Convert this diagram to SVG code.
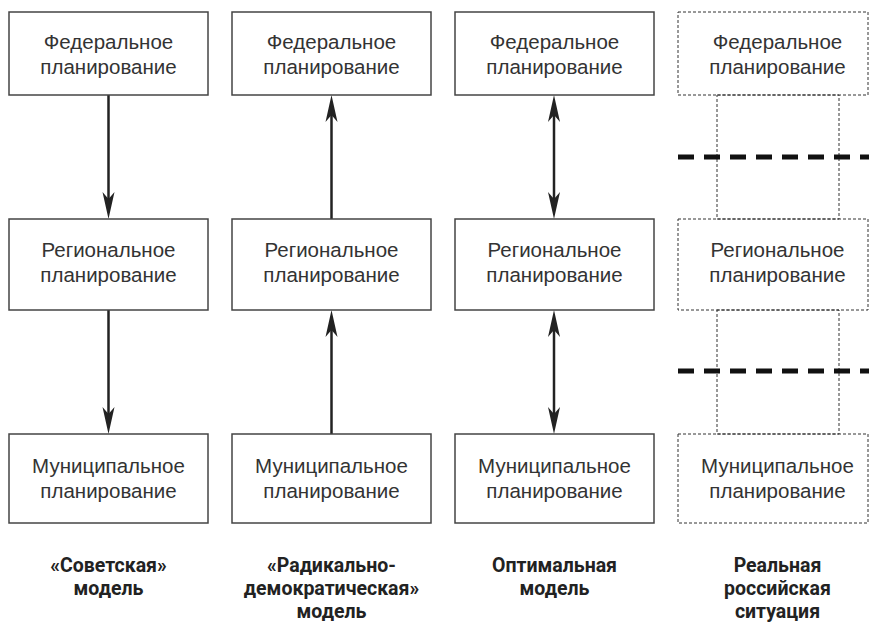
<svg xmlns="http://www.w3.org/2000/svg" width="869" height="622" viewBox="0 0 869 622">
<style>
.box{fill:#fff;stroke:#444;stroke-width:1.5}
.dbox{fill:none;stroke:#333;stroke-width:1;stroke-dasharray:3 2}
.t{font-family:"Liberation Sans",Arial,sans-serif;font-size:20.5px;fill:#333;text-anchor:middle}
.lab{font-family:Roboto,"Liberation Sans",sans-serif;font-weight:bold;font-size:19.5px;fill:#222;text-anchor:middle}
.arr{stroke:#222;stroke-width:2.5;fill:none}
.thick{stroke:#111;stroke-width:5;stroke-dasharray:16 10;fill:none}
</style>
<defs>
<marker id="ah" markerUnits="userSpaceOnUse" viewBox="0 -7 28 14" refX="7" refY="0" markerWidth="28" markerHeight="14" orient="auto-start-reverse">
<path d="M0,-6 L27,0 L0,6 L7,0 z" fill="#222"/>
</marker>
</defs>
<rect width="869" height="622" fill="#fff"/>
<g id="connectors">
<line class="arr" x1="108.5" y1="95" x2="108.5" y2="199" marker-end="url(#ah)"/>
<line class="arr" x1="108.5" y1="310" x2="108.5" y2="414" marker-end="url(#ah)"/>
<line class="arr" x1="331.5" y1="219" x2="331.5" y2="115" marker-end="url(#ah)"/>
<line class="arr" x1="331.5" y1="434" x2="331.5" y2="330" marker-end="url(#ah)"/>
<line class="arr" x1="554" y1="115" x2="554" y2="199" marker-start="url(#ah)" marker-end="url(#ah)"/>
<line class="arr" x1="554" y1="330" x2="554" y2="414" marker-start="url(#ah)" marker-end="url(#ah)"/>
<rect class="dbox" x="717" y="95" width="122" height="124"/>
<rect class="dbox" x="717" y="310" width="122" height="124"/>
<line class="thick" x1="678" y1="157" x2="869" y2="157"/>
<line class="thick" x1="678" y1="371" x2="869" y2="371"/>
</g>
<g id="fed1"><rect class="box" x="9" y="12" width="199" height="83"/><text class="t" x="108.5" y="49">Федеральное</text><text class="t" x="108.5" y="74">планирование</text></g>
<g id="reg1"><rect class="box" x="9" y="219" width="199" height="91"/><text class="t" x="108.5" y="257">Региональное</text><text class="t" x="108.5" y="282">планирование</text></g>
<g id="mun1"><rect class="box" x="9" y="434" width="199" height="89"/><text class="t" x="108.5" y="473">Муниципальное</text><text class="t" x="108.5" y="498">планирование</text></g>
<g id="fed2"><rect class="box" x="232" y="12" width="199" height="83"/><text class="t" x="331.5" y="49">Федеральное</text><text class="t" x="331.5" y="74">планирование</text></g>
<g id="reg2"><rect class="box" x="232" y="219" width="199" height="91"/><text class="t" x="331.5" y="257">Региональное</text><text class="t" x="331.5" y="282">планирование</text></g>
<g id="mun2"><rect class="box" x="232" y="434" width="199" height="89"/><text class="t" x="331.5" y="473">Муниципальное</text><text class="t" x="331.5" y="498">планирование</text></g>
<g id="fed3"><rect class="box" x="455" y="12" width="199" height="83"/><text class="t" x="554.5" y="49">Федеральное</text><text class="t" x="554.5" y="74">планирование</text></g>
<g id="reg3"><rect class="box" x="455" y="219" width="199" height="91"/><text class="t" x="554.5" y="257">Региональное</text><text class="t" x="554.5" y="282">планирование</text></g>
<g id="mun3"><rect class="box" x="455" y="434" width="199" height="89"/><text class="t" x="554.5" y="473">Муниципальное</text><text class="t" x="554.5" y="498">планирование</text></g>
<g id="fed4"><rect class="dbox" x="678" y="12" width="190" height="83"/><text class="t" x="777.5" y="49">Федеральное</text><text class="t" x="777.5" y="74">планирование</text></g>
<g id="reg4"><rect class="dbox" x="678" y="219" width="190" height="91"/><text class="t" x="777.5" y="257">Региональное</text><text class="t" x="777.5" y="282">планирование</text></g>
<g id="mun4"><rect class="dbox" x="678" y="434" width="190" height="89"/><text class="t" x="777.5" y="473">Муниципальное</text><text class="t" x="777.5" y="498">планирование</text></g>
<g id="labels">
<text class="lab" x="108.5" y="572">«Советская»</text>
<text class="lab" x="108.5" y="595">модель</text>
<text class="lab" x="331.5" y="572">«Радикально-</text>
<text class="lab" x="331.5" y="595">демократическая»</text>
<text class="lab" x="331.5" y="618">модель</text>
<text class="lab" x="554.5" y="572">Оптимальная</text>
<text class="lab" x="554.5" y="595">модель</text>
<text class="lab" x="777.5" y="572">Реальная</text>
<text class="lab" x="777.5" y="595">российская</text>
<text class="lab" x="777.5" y="618">ситуация</text>
</g>
</svg>
